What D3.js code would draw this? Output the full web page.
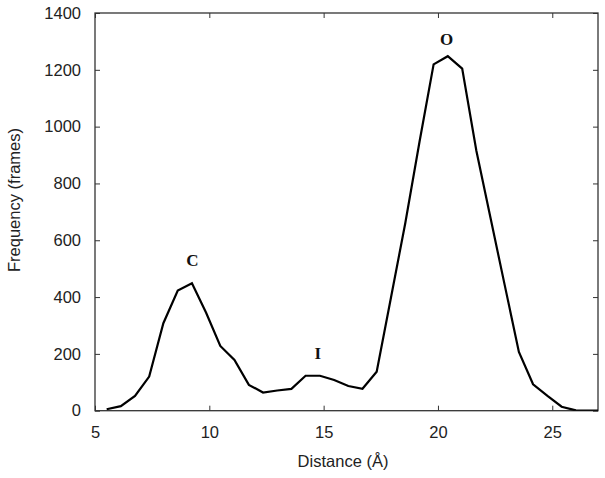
<!DOCTYPE html>
<html>
<head>
<meta charset="utf-8">
<script src="https://cdn.jsdelivr.net/npm/d3@7"></script>
<style>
  html, body { margin: 0; padding: 0; background: #fff; }
  svg { display: block; }
</style>
</head>
<body>
<svg id="chart" width="605" height="478"></svg>
<script>
const distance = [5.51, 6.13, 6.75, 7.37, 7.99, 8.62, 9.24, 9.86, 10.48, 11.10, 11.73, 12.35,
  12.97, 13.59, 14.21, 14.84, 15.46, 16.08, 16.70, 17.32, 17.95, 18.57, 19.19, 19.81,
  20.43, 21.06, 21.68, 22.30, 22.92, 23.54, 24.16, 24.79, 25.41, 26.03, 26.65, 27.27];
const frequency = [5, 16, 52, 120, 308, 423, 449, 345, 228, 179, 91, 64,
  71, 77, 123, 123, 108, 87, 77, 137, 400, 660, 945, 1219,
  1248, 1204, 915, 678, 442, 207, 93, 52, 14, 1, 0, 0];
const xTicks = [5, 10, 15, 20, 25];
const yTicks = [0, 200, 400, 600, 800, 1000, 1200, 1400];
const peakLabels = ["C", "I", "O"];
const peakX = [9.26, 14.75, 20.38];
const peakY = [449, 123, 1248];

const svg = d3.select("#chart");
const L = 95, R = 598, T = 13, B = 410.7;
const x = d3.scaleLinear().domain([5, 27]).range([L, R]);
const y = d3.scaleLinear().domain([0, 1400]).range([B, T]);

const sansFont = "'Liberation Sans', Arial, sans-serif";
const tickLen = 5;
const fmt = d3.format("d");

svg.append("clipPath").attr("id", "clip")
  .append("rect").attr("x", L).attr("y", T).attr("width", R - L).attr("height", B - T);

const axB = svg.append("g").attr("transform", `translate(0,${B})`)
  .call(d3.axisBottom(x).tickValues(xTicks).tickFormat(fmt).tickSizeInner(-tickLen).tickSizeOuter(0).tickPadding(16));
const axT = svg.append("g").attr("transform", `translate(0,${T})`)
  .call(d3.axisTop(x).tickValues(xTicks).tickSizeInner(-tickLen).tickSizeOuter(0).tickFormat(""));
const axL = svg.append("g").attr("transform", `translate(${L},0)`)
  .call(d3.axisLeft(y).tickValues(yTicks).tickFormat(fmt).tickSizeInner(-tickLen).tickSizeOuter(0).tickPadding(14));
const axR = svg.append("g").attr("transform", `translate(${R},0)`)
  .call(d3.axisRight(y).tickValues(yTicks).tickSizeInner(-tickLen).tickSizeOuter(0).tickFormat(""));

[axB, axT, axL, axR].forEach(a => {
  a.select(".domain").remove();
  a.selectAll(".tick line").attr("stroke", "#333").attr("stroke-width", 1);
  a.selectAll(".tick text").attr("font-family", sansFont).attr("font-size", 16.5).attr("fill", "#222");
});

svg.append("rect").attr("x", L).attr("y", T).attr("width", R - L).attr("height", B - T)
  .attr("fill", "none").attr("stroke", "#333").attr("stroke-width", 1.3);

const line = d3.line().x((d, i) => x(distance[i])).y(d => y(d));
svg.append("path").datum(frequency)
  .attr("clip-path", "url(#clip)")
  .attr("d", line)
  .attr("fill", "none").attr("stroke", "#000").attr("stroke-width", 2.2)
  .attr("stroke-linejoin", "miter");

const labelOffset = [-17, -17, -11];
peakLabels.forEach((t, i) => {
  svg.append("text")
    .attr("x", x(peakX[i]))
    .attr("y", y(peakY[i]) + labelOffset[i])
    .attr("text-anchor", "middle")
    .attr("font-family", "'Liberation Serif', 'Times New Roman', serif")
    .attr("font-weight", "bold")
    .attr("font-size", 17)
    .attr("fill", "#111")
    .text(t);
});

svg.append("text")
  .attr("x", 343).attr("y", 467)
  .attr("text-anchor", "middle")
  .attr("font-family", sansFont).attr("font-size", 16.5).attr("fill", "#222")
  .text("Distance (Å)");
svg.append("text")
  .attr("transform", "translate(20,200) rotate(-90)")
  .attr("text-anchor", "middle")
  .attr("font-family", sansFont).attr("font-size", 16.5).attr("fill", "#222")
  .text("Frequency (frames)");
</script>
</body>
</html>
